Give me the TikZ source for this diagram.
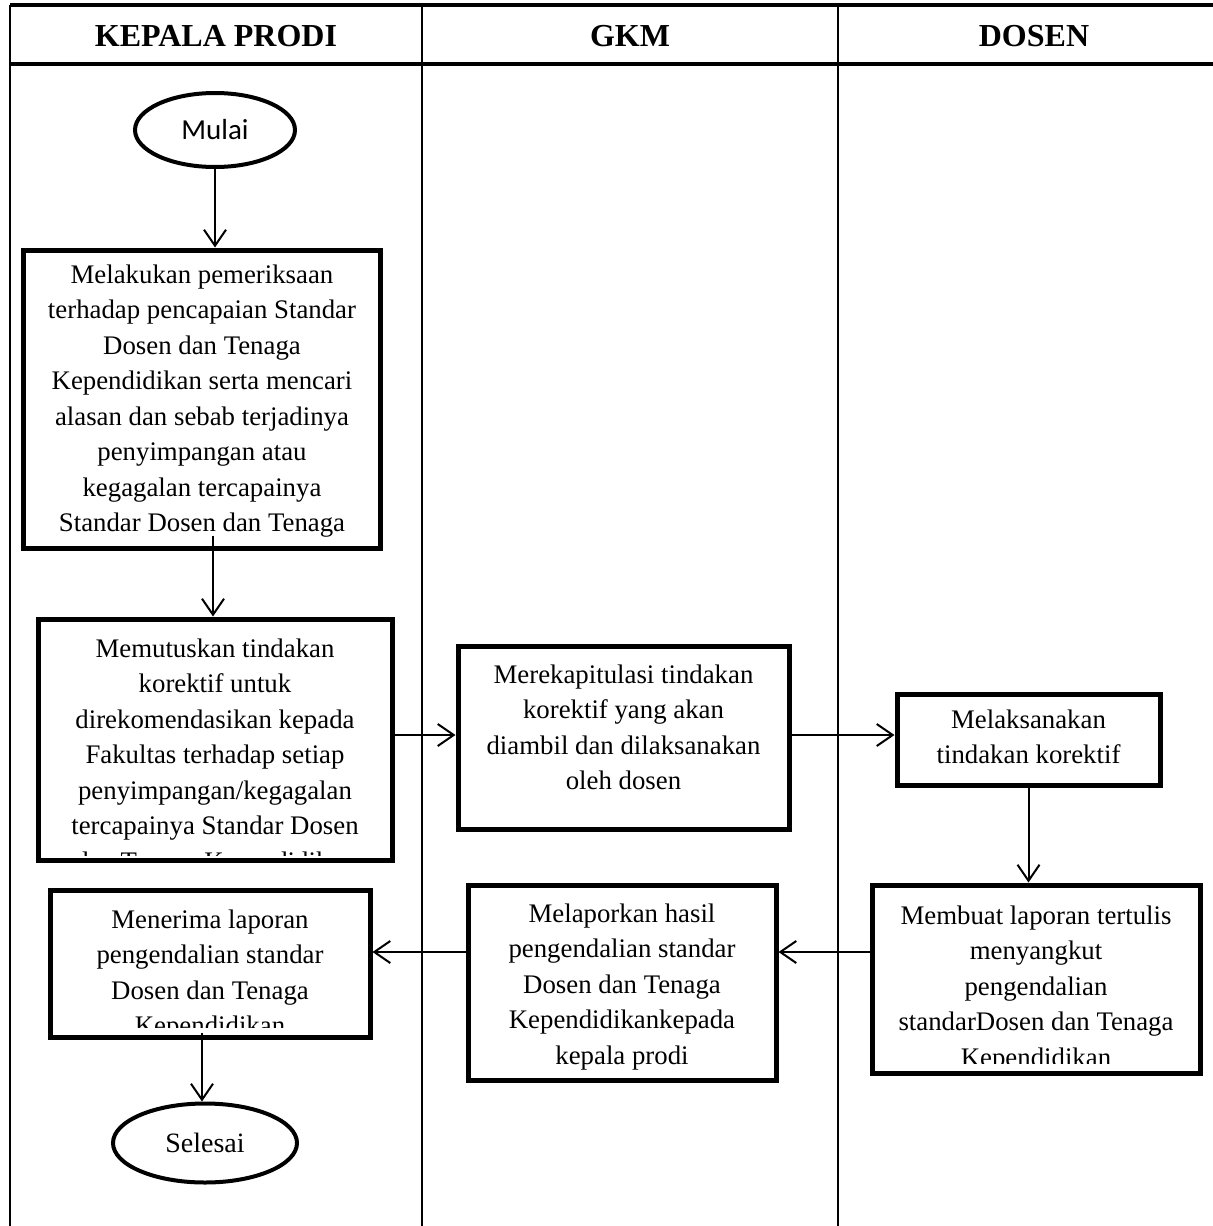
\documentclass[tikz,border=0pt]{standalone}
\usepackage{fontspec}
\setmainfont{Liberation Serif}
\newfontfamily\sansf{Carlito}
\usetikzlibrary{arrows.meta,shapes.geometric,calc}
\tikzset{
  proc/.style={draw, line width=2.5pt, rectangle, inner sep=0pt, fill=white},
  term/.style={draw, ellipse, line width=2pt, inner sep=0pt},
  txt/.style={align=center, font=\fontsize{13.4}{17.75}\selectfont, inner sep=0pt, anchor=north},
  hdr/.style={font=\fontsize{16}{19}\selectfont\bfseries, inner sep=0pt},
  arr/.style={-{Straight Barb[length=8pt,width=11pt]}, line width=1pt},
  grid/.style={line width=1.1pt},
  gridthick/.style={line width=1.6pt}
}
\begin{document}
\begin{tikzpicture}[x=0.5pt,y=-0.5pt]
\useasboundingbox (0,0) rectangle (1213,1226);
% table
\draw[gridthick] (10,5) -- (1213,5);
\draw[gridthick] (10,64) -- (1213,64);
\draw[grid] (10,5) -- (10,1226);
\draw[grid] (422,5) -- (422,1226);
\draw[grid] (838,5) -- (838,1226);
\node[hdr] (h1) at (216,36) {KEPALA PRODI};
\node[hdr] (h2) at (630,36) {GKM};
\node[hdr] (h3) at (1034,36) {DOSEN};

% terminals
\node[term, minimum width=80pt, minimum height=37pt, font=\sansf\fontsize{14.5}{16}\selectfont] (m) at (215,130) {Mulai};
\node[term, minimum width=92pt, minimum height=39.5pt, font=\fontsize{14}{16}\selectfont] (se) at (205,1143) {Selesai};

% process boxes
\node[proc, minimum width=178.5pt, minimum height=149pt] (b1) at (201.5,399) {};
\node[proc, minimum width=177pt, minimum height=120.5pt] (b2) at (215,739.5) {};
\node[proc, minimum width=165.5pt, minimum height=91.5pt] (b3) at (623.5,737.5) {};
\node[proc, minimum width=131.5pt, minimum height=45.5pt] (b4) at (1028.5,739.5) {};
\node[proc, minimum width=164pt, minimum height=94pt] (b5) at (1036,979) {};
\node[proc, minimum width=154pt, minimum height=97.5pt] (b6) at (622,982.5) {};
\node[proc, minimum width=160pt, minimum height=73.5pt] (b7) at (210,963.5) {};

% texts (clipped to their boxes)
\begin{scope}
\clip (b1.north west) rectangle ([yshift=6pt]b1.south east);
\node[txt] (t1) at (202,264) {Melakukan pemeriksaan\\terhadap pencapaian Standar\\Dosen dan Tenaga\\Kependidikan serta mencari\\alasan dan sebab terjadinya\\penyimpangan atau\\kegagalan tercapainya\\Standar Dosen dan Tenaga};
\end{scope}
\begin{scope}
\clip (b2.north west) rectangle ([yshift=3.6pt]b2.south east);
\node[txt] (t2) at (215,638) {Memutuskan tindakan\\korektif untuk\\direkomendasikan kepada\\Fakultas terhadap setiap\\penyimpangan/kegagalan\\tercapainya Standar Dosen\\dan Tenaga Kependidikan};
\end{scope}
\node[txt] (t3) at (623.5,664) {Merekapitulasi tindakan\\korektif yang akan\\diambil dan dilaksanakan\\oleh dosen};
\node[txt] (t4) at (1028.5,709) {Melaksanakan\\tindakan korektif};
\begin{scope}
\clip (b5.north west) rectangle ([yshift=6pt]b5.south east);
\node[txt] (t5) at (1036,905) {Membuat laporan tertulis\\menyangkut\\pengendalian\\standarDosen dan Tenaga\\Kependidikan};
\end{scope}
\node[txt] (t6) at (622,903) {Melaporkan hasil\\pengendalian standar\\Dosen dan Tenaga\\Kependidikankepada\\kepala prodi};
\begin{scope}
\clip (b7.north west) rectangle ([yshift=6pt]b7.south east);
\node[txt] (t7) at (210,909) {Menerima laporan\\pengendalian standar\\Dosen dan Tenaga\\Kependidikan};
\end{scope}

% connectors
\coordinate (r3) at (0,735);
\coordinate (r6) at (0,952);
\draw[arr] (m.south) -- (m.south |- b1.north);
\draw[arr] ($(m.south |- b1.south)+(-2,-15)$) -- ($(m.south |- b2.north)+(-2,0)$);
\draw[arr] (b2.east |- r3) -- (b3.west |- r3);
\draw[arr] (b3.east |- r3) -- (b4.west |- r3);
\draw[arr] (b4.south) -- (b4.south |- b5.north);
\draw[arr] (b5.west |- r6) -- (b6.east |- r6);
\draw[arr] (b6.west |- r6) -- (b7.east |- r6);
\draw[arr] ($(se.north |- b7.south)+(-3,-7)$) -- ($(se.north)+(-3,0)$);
\end{tikzpicture}
\end{document}
